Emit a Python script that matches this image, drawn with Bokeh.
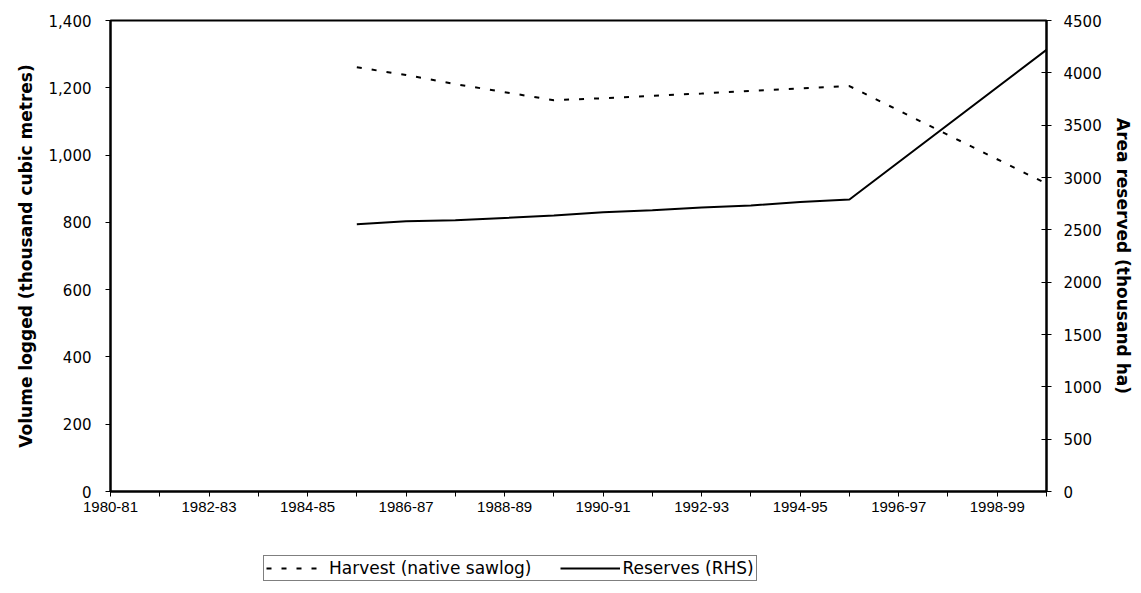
from bokeh.plotting import figure
from bokeh.layouts import column
from bokeh.models import (Range1d, LinearAxis, FixedTicker, NumeralTickFormatter,
                          Legend, LegendItem, ColumnDataSource)
from bokeh.embed import file_html
from bokeh.resources import INLINE

years = ["1980-81", "1981-82", "1982-83", "1983-84", "1984-85", "1985-86",
         "1986-87", "1987-88", "1988-89", "1989-90", "1990-91", "1991-92",
         "1992-93", "1993-94", "1994-95", "1995-96", "1996-97", "1997-98",
         "1998-99", "1999-00"]

harvest_years = ["1985-86", "1986-87", "1987-88", "1988-89", "1989-90", "1990-91",
                 "1991-92", "1992-93", "1993-94", "1994-95", "1995-96", "1999-00"]
harvest_values = [1261, 1238, 1211, 1187, 1163, 1169, 1176, 1183, 1191, 1198, 1205, 915]

reserve_years = ["1985-86", "1986-87", "1987-88", "1988-89", "1989-90", "1990-91",
                 "1991-92", "1992-93", "1993-94", "1994-95", "1995-96", "1999-00"]
reserve_values = [2553, 2582, 2592, 2614, 2637, 2668, 2688, 2714, 2733, 2767, 2790, 4220]

left_ticks = [0, 200, 400, 600, 800, 1000, 1200, 1400]
right_ticks = [0, 500, 1000, 1500, 2000, 2500, 3000, 3500, 4000, 4500]

W = 1141
H_MAIN = 552
H_LEG = 41

p = figure(width=W, height=H_MAIN, output_backend="svg", toolbar_location=None,
           x_range=Range1d(0, len(years) - 1), y_range=Range1d(0, 1400),
           min_border_left=110, min_border_right=95, min_border_top=20,
           min_border_bottom=61)
p.extra_y_ranges = {"right": Range1d(0, 4500)}
p.xgrid.visible = False
p.ygrid.visible = False
p.background_fill_color = "white"
p.border_fill_color = "white"
p.outline_line_color = "black"
p.outline_line_width = 2

hx = [years.index(y) for y in harvest_years]
rx = [years.index(y) for y in reserve_years]
hsrc = ColumnDataSource(dict(x=hx, y=harvest_values))
rsrc = ColumnDataSource(dict(x=rx, y=reserve_values))

harvest_style = dict(line_color="black", line_width=2, line_dash="5 10")
reserve_style = dict(line_color="black", line_width=2)

hr = p.line("x", "y", source=hsrc, **harvest_style)
rr = p.line("x", "y", source=rsrc, y_range_name="right", **reserve_style)

# x axis
xa = p.xaxis[0]
xa.ticker = FixedTicker(ticks=list(range(len(years))))
xa.major_label_overrides = {i: (years[i] if i % 2 == 0 else "") for i in range(len(years))}
xa.major_tick_in = 0
xa.major_tick_out = 5
xa.minor_tick_out = 0
xa.minor_tick_in = 0
xa.axis_line_width = 2
xa.major_label_text_font = "Liberation Sans"
xa.major_label_text_font_size = "15px"
xa.major_label_text_color = "black"
xa.major_label_standoff = 5

# left axis
ya = p.yaxis[0]
ya.ticker = FixedTicker(ticks=left_ticks)
ya.formatter = NumeralTickFormatter(format="0,0")
ya.major_tick_in = 0
ya.major_tick_out = 5
ya.minor_tick_out = 0
ya.minor_tick_in = 0
ya.axis_line_width = 2
ya.major_label_text_font = "DejaVu Sans"
ya.major_label_text_font_size = "15px"
ya.major_label_text_color = "black"
ya.major_label_standoff = 14
ya.axis_label = "Volume logged (thousand cubic metres)"
ya.axis_label_text_font = "DejaVu Sans"
ya.axis_label_text_font_style = "bold"
ya.axis_label_text_font_size = "17px"
ya.axis_label_text_color = "black"
ya.axis_label_standoff = 10

# right axis
ra = LinearAxis(y_range_name="right", ticker=FixedTicker(ticks=right_ticks))
ra.major_tick_in = 5
ra.major_tick_out = 5
ra.minor_tick_out = 0
ra.minor_tick_in = 0
ra.axis_line_width = 2
ra.major_label_text_font = "DejaVu Sans"
ra.major_label_text_font_size = "15px"
ra.major_label_text_color = "black"
ra.major_label_standoff = 12
ra.axis_label = "Area reserved (thousand ha)"
ra.axis_label_text_font = "DejaVu Sans"
ra.axis_label_text_font_style = "bold"
ra.axis_label_text_font_size = "17px"
ra.axis_label_text_color = "black"
ra.axis_label_standoff = 8
p.add_layout(ra, "right")

# legend strip (separate figure below the chart; its lines lie out of view)
p2 = figure(width=W, height=H_LEG, output_backend="svg", toolbar_location=None,
            x_range=Range1d(0, len(years) - 1), y_range=Range1d(-20000, -19000),
            min_border=0, x_axis_type=None, y_axis_type=None)
p2.outline_line_color = None
p2.xgrid.visible = False
p2.ygrid.visible = False
p2.background_fill_color = "white"
p2.border_fill_color = "white"
lh = p2.line("x", "y", source=hsrc, **harvest_style)
lr = p2.line("x", "y", source=rsrc, **reserve_style)

legend = Legend(items=[LegendItem(label="Harvest (native sawlog)", renderers=[lh]),
                       LegendItem(label="Reserves (RHS)", renderers=[lr])],
                orientation="horizontal", location=(153, 12))
legend.border_line_color = "black"
legend.border_line_width = 1
legend.background_fill_color = "white"
legend.background_fill_alpha = 1
legend.label_text_font = "DejaVu Sans"
legend.label_text_font_size = "17px"
legend.label_text_color = "black"
legend.glyph_width = 60
legend.label_standoff = 3
legend.spacing = 28
legend.padding = 2
legend.margin = 0
legend.label_height = 14
legend.glyph_height = 14
p2.add_layout(legend, "center")

layout = column(p, p2, spacing=0)
open("out.html", "w").write(file_html(layout, INLINE))
